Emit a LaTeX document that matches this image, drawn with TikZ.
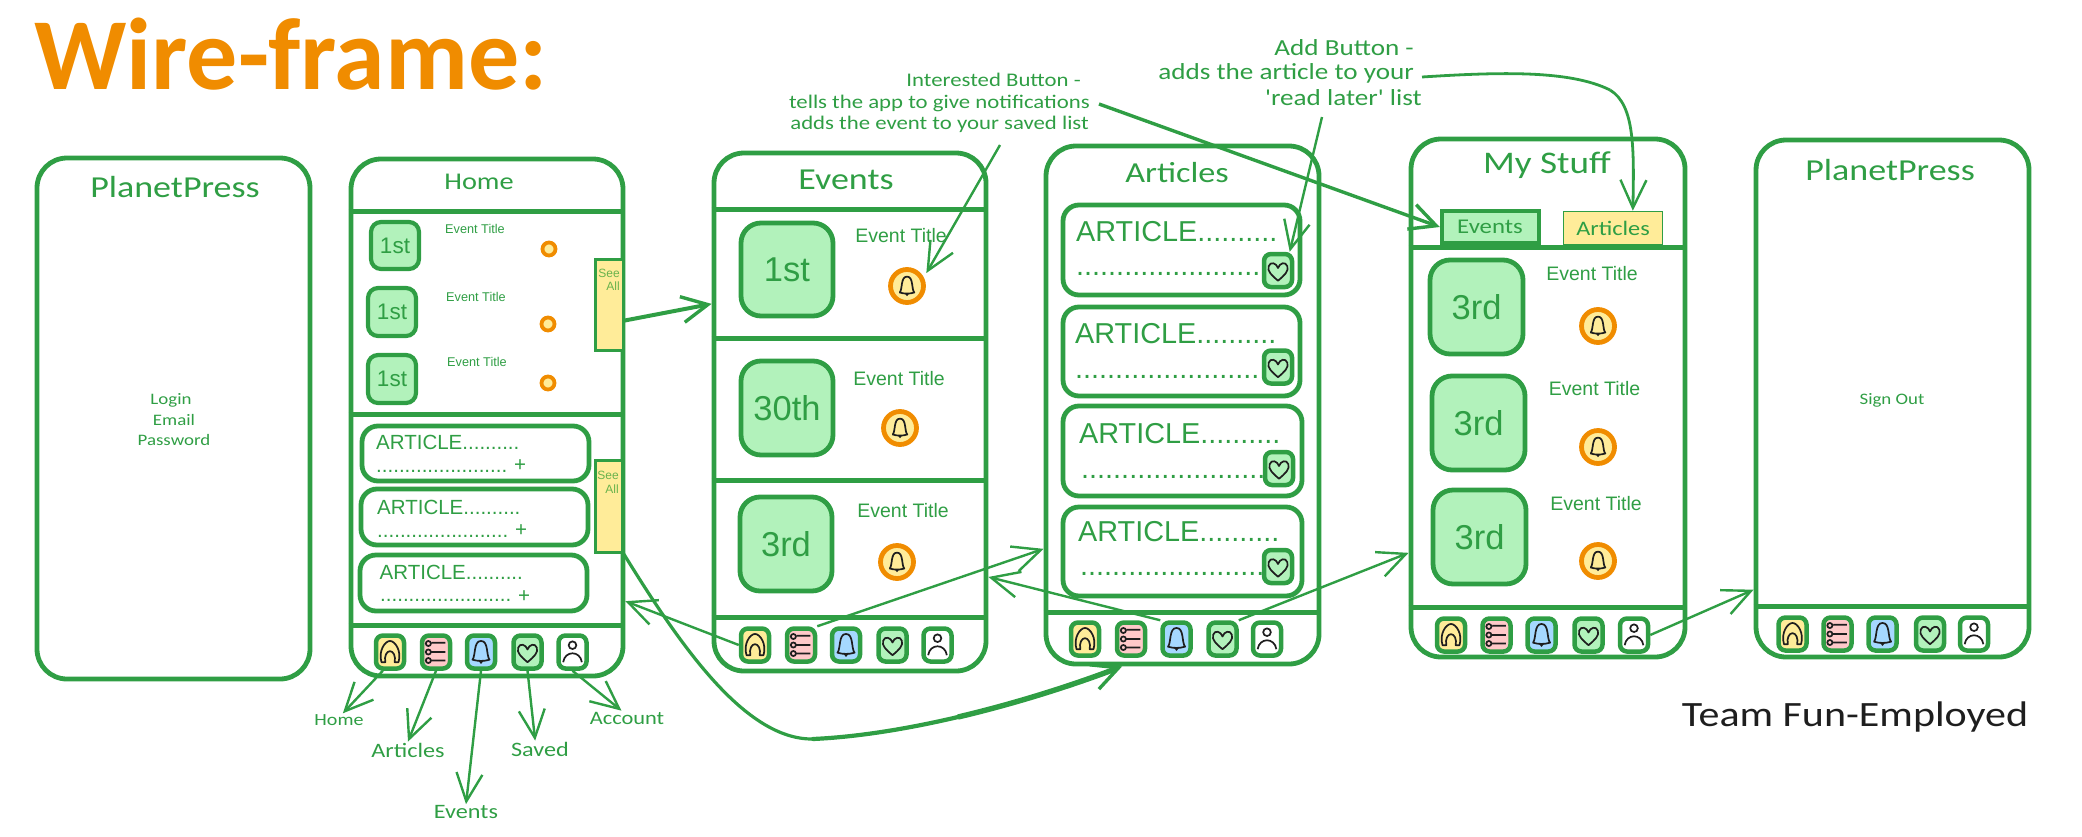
\documentclass[tikz,border=0pt]{standalone}
\usepackage{fontspec}
\setmainfont{Liberation Sans}
\newfontfamily\hand[FakeStretch=1.18]{Carlito}
\newfontfamily\headfont{Carlito}
\usetikzlibrary{arrows.meta,fit}
\definecolor{gr}{HTML}{2F9E44}
\definecolor{lgr}{HTML}{B2F2BB}
\definecolor{cyel}{HTML}{FFEC99}
\definecolor{cred}{HTML}{FFC9C9}
\definecolor{cblu}{HTML}{A5D8FF}
\definecolor{org}{HTML}{F08C00}
\definecolor{ink}{HTML}{1E1E1E}
\definecolor{seetxt}{HTML}{69B34C}
\newcommand{\fs}[1]{\fontsize{#1}{#1}\selectfont}
\tikzset{
  x=1pt,y=-1pt,
  panel/.style={draw=gr,line width=4.8pt,rounded corners=30pt,inner sep=-1pt},
  divider/.style={draw=gr,line width=5pt},
  thinbox/.style={draw=gr,line width=4.8pt,rounded corners=20pt,fill=lgr,inner sep=-1pt},
  datetxt/.style={text=gr,font=\fs{34.5},inner sep=0pt},
  smallbox/.style={draw=gr,line width=4.2pt,rounded corners=10pt,fill=lgr,inner sep=-1pt},
  smalltxt/.style={text=gr,font=\fs{22.5},inner sep=0pt},
  artbox/.style={draw=gr,line width=4.8pt,rounded corners=16pt,inner sep=-1pt},
  navbtn/.style={draw=gr,line width=4.5pt,rounded corners=7pt,minimum width=28pt,minimum height=33pt,inner sep=0pt},
  seebox/.style={draw=gr,line width=3pt,fill=cyel,inner sep=0pt},
  seetext/.style={text=seetxt,font=\fs{12},inner sep=0pt},
  evtitle/.style={text=gr,font=\fs{19.5},inner sep=0pt},
  evsmall/.style={text=gr,font=\fs{12.7},inner sep=0pt},
  bellmark/.style={circle,draw=org,line width=4.8pt,fill=cyel,minimum size=33pt,inner sep=0pt},
  orgdot/.style={circle,draw=org,line width=3.8pt,fill=cyel,minimum size=13pt,inner sep=0pt},
  artbig/.style={text=gr,font=\fs{28.8},anchor=base west,inner sep=0pt},
  artsm/.style={text=gr,font=\fs{20.5},anchor=base west,inner sep=0pt},
  handtxt/.style={text=gr,font=\hand,inner sep=1pt},
  conn/.style={draw=gr,line width=2.4pt,-{Straight Barb[length=28pt,width=26pt,line width=2.4pt]}},
  connthick/.style={draw=gr,line width=3.4pt,-{Straight Barb[length=26pt,width=26pt,line width=3.4pt]}},
  homeic/.pic={\draw[ink,line width=1.7pt,line join=round,scale=.85] (-10,12) .. controls (-14,-1) and (-6,-13) .. (0,-13) .. controls (6,-13) and (14,-1) .. (10,12) -- (5.5,12) .. controls (7,5) and (4,-1) .. (0,-1) .. controls (-4,-1) and (-7,5) .. (-5.5,12) -- cycle;},
  listic/.pic={\draw[ink,line width=1.7pt,scale=.85] (-9,-10) circle[radius=3] (-9,0) circle[radius=3] (-9,10) circle[radius=3] (-5,-11) -- (11,-11) (-5,0) -- (11,0) (-5,10) -- (11,10);},
  bellic/.pic={\draw[ink,line width=1.7pt,line join=round,scale=.85] (-10,9) .. controls (-6,4) and (-9,-13) .. (0,-13) .. controls (9,-13) and (6,4) .. (10,9) .. controls (4,11) and (-4,11) .. (-10,9) -- cycle; \fill[ink,scale=.85] (-3,10.5) -- (3,10.5) -- (0,14) -- cycle;},
  heartic/.pic={\draw[ink,line width=1.7pt,line join=round,scale=.85] (0,12) .. controls (-7,6) and (-13,1) .. (-11,-5) .. controls (-9,-11) and (-2,-9) .. (0,-3) .. controls (2,-9) and (9,-11) .. (11,-5) .. controls (13,1) and (7,6) .. (0,12) -- cycle;},
  personic/.pic={\draw[ink,line width=1.7pt,scale=.85] (0,-8) circle[radius=4.5] (-11,12) .. controls (-9,-2) and (9,-2) .. (11,12);},
}
\newcommand{\NavRow}[7]{%
  \node[navbtn,fill=cyel] (#1a) at (#3,#2) {}; \pic at (#1a.center) {homeic};
  \node[navbtn,fill=cred] (#1b) at (#4,#2) {}; \pic at (#1b.center) {listic};
  \node[navbtn,fill=cblu] (#1c) at (#5,#2) {}; \pic at (#1c.center) {bellic};
  \node[navbtn,fill=lgr]  (#1d) at (#6,#2) {}; \pic at (#1d.center) {heartic};
  \node[navbtn,fill=white](#1e) at (#7,#2) {}; \pic at (#1e.center) {personic};
}
\newcommand{\EventRow}[8]{%
  \node[thinbox,fit={(#2,#3)(#4,#5)}] (#1box) {};
  \node[datetxt] (#1num) at (#1box.center) {#6};
  \node[evtitle] (#1t) at (#7) {Event Title};
  \node[bellmark] (#1bell) at (#8) {}; \pic[scale=.85] at (#1bell.center) {bellic};
}
\begin{document}
\begin{tikzpicture}
\useasboundingbox (0,0) rectangle (2082,836);
% title
\node[text=org,font=\headfont\bfseries\fs{102},inner sep=0pt] (wf) at (291,54) {Wire-frame:};
% panel 1
\node[panel,fit={(36,157)(311,680)}] (p1) {};
\node[handtxt,font=\hand\fs{30.5}] (p1t) at (175,187) {PlanetPress};
\node[handtxt,font=\hand\fs{16}] (login) at (171,400) {Login};
\node[handtxt,font=\hand\fs{16}] (email) at (174,420) {Email};
\node[handtxt,font=\hand\fs{16}] (pass) at (174,440) {Password};
% panel 2 Home
\node[panel,fit={(350,158)(624,677)}] (p2) {};
\node[handtxt,font=\hand\fs{24}] (p2t) at (479,182) {Home};
\draw[divider] (p2.west |- 0,211) -- (p2.east |- 0,211);
\draw[divider] (p2.west |- 0,414) -- (p2.east |- 0,414);
\draw[divider] (p2.west |- 0,625) -- (p2.east |- 0,625);
\node[smallbox,fit={(370,221)(420,270)}] (h1) {};
\node[smalltxt] (h1n) at (h1.center) {1st};
\node[smallbox,fit={(367,287)(417,337)}] (h2) {};
\node[smalltxt] (h2n) at (h2.center) {1st};
\node[smallbox,fit={(367,354)(417,404)}] (h3) {};
\node[smalltxt] (h3n) at (h3.center) {1st};
\node[evsmall] (h1t) at (475,229) {Event Title};
\node[evsmall] (h2t) at (476,297) {Event Title};
\node[evsmall] (h3t) at (477,362) {Event Title};
\node[orgdot] (h1d) at (549,249) {};
\node[orgdot] (h2d) at (548,324) {};
\node[orgdot] (h3d) at (548,383) {};
\node[seebox,fit={(595,259)(623,350)}] (seeA) {};
\node[seetext] (seeA1) at (609,273) {See};
\node[seetext] (seeA2) at (613,286) {All};
\node[seebox,fit={(595,460)(622,552)}] (seeB) {};
\node[seetext] (seeB1) at (608,475) {See};
\node[seetext] (seeB2) at (612,489) {All};
\node[artbox,fit={(361,425)(590,482)}] (ha1) {};
\node[artbox,fit={(360,488)(589,546)}] (ha2) {};
\node[artbox,fit={(359,554)(588,612)}] (ha3) {};
\node[artsm] (ha1a) at (376,449.5) {ARTICLE..........};
\node[artsm] (ha1b) at (376,472) {.......................};
\node[text=gr,font=\fs{20.5},inner sep=0pt] (ha1p) at (520,466) {+};
\node[artsm] (ha2a) at (377,514) {ARTICLE..........};
\node[artsm] (ha2b) at (377,537) {.......................};
\node[text=gr,font=\fs{20.5},inner sep=0pt] (ha2p) at (521,531) {+};
\node[artsm] (ha3a) at (379.5,579) {ARTICLE..........};
\node[artsm] (ha3b) at (380,601) {.......................};
\node[text=gr,font=\fs{20.5},inner sep=0pt] (ha3p) at (524,597) {+};
\NavRow{navH}{652}{390}{436}{481}{527.5}{572.5}
% panel 3 Events
\node[panel,fit={(713,152)(987,672)}] (p3) {};
\node[handtxt,font=\hand\fs{30.5}] (p3t) at (846,180) {Events};
\draw[divider] (p3.west |- 0,209) -- (p3.east |- 0,209);
\draw[divider] (p3.west |- 0,338) -- (p3.east |- 0,338);
\draw[divider] (p3.west |- 0,480) -- (p3.east |- 0,480);
\draw[divider] (p3.west |- 0,617) -- (p3.east |- 0,617);
\EventRow{e1}{740}{222}{834}{317}{1st}{901,236}{907,286}
\EventRow{e2}{740}{360}{834}{456}{30th}{899,379}{900,428}
\EventRow{e3}{739}{496}{833}{592}{3rd}{903,511}{897,562}
\NavRow{navE}{645}{755}{801}{846}{892.5}{937.5}
% panel 4 Articles
\node[panel,fit={(1045,145)(1320,665)}] (p4) {};
\node[handtxt,font=\hand\fs{29}] (p4t) at (1177,173) {Articles};
\draw[divider] (p4.west |- 0,612) -- (p4.east |- 0,612);
\node[artbox,fit={(1062,204)(1301,296)}] (a1) {};
\node[artbox,fit={(1062,306)(1301,397)}] (a2) {};
\node[artbox,fit={(1062,405)(1303,497)}] (a3) {};
\node[artbox,fit={(1062,506)(1303,597)}] (a4) {};
\node[artbig] (a1a) at (1076,241) {ARTICLE..........};
\node[artbig] (a1b) at (1076,275) {.......................};
\node[artbig] (a2a) at (1075,343) {ARTICLE..........};
\node[artbig] (a2b) at (1075,378) {.......................};
\node[artbig] (a3a) at (1079,443) {ARTICLE..........};
\node[artbig] (a3b) at (1081,478) {.......................};
\node[artbig] (a4a) at (1078,541) {ARTICLE..........};
\node[artbig] (a4b) at (1080,575) {.......................};
\node[navbtn,fill=lgr,minimum width=28pt] (a1h) at (1278,270.5) {}; \pic at (a1h.center) {heartic};
\node[navbtn,fill=lgr,minimum width=28pt] (a2h) at (1278,367) {}; \pic at (a2h.center) {heartic};
\node[navbtn,fill=lgr,minimum width=28pt] (a3h) at (1279,468.5) {}; \pic at (a3h.center) {heartic};
\node[navbtn,fill=lgr,minimum width=28pt] (a4h) at (1278,566.5) {}; \pic at (a4h.center) {heartic};
\NavRow{navA}{639}{1085}{1131}{1176.5}{1222.5}{1267}
% panel 5 My Stuff
\node[panel,fit={(1410,138)(1686,658)}] (p5) {};
\node[handtxt,font=\hand\fs{31.5}] (p5t) at (1547,165) {My Stuff};
\draw[divider] (p5.west |- 0,247) -- (p5.east |- 0,247);
\draw[divider] (p5.west |- 0,607) -- (p5.east |- 0,607);
\node[draw=gr,line width=4.5pt,fill=lgr,inner sep=-2pt,fit={(1440,209)(1541,245)}] (tabE) {};
\node[handtxt,font=\hand\fs{21}] (tabEt) at (1490,227) {Events};
\node[draw=gr,line width=1.5pt,fill=cyel,inner sep=-.5pt,fit={(1563,211)(1663,245)}] (tabA) {};
\node[handtxt,font=\hand\fs{20.6}] (tabAt) at (1613,228) {Articles};
\EventRow{m1}{1429}{259}{1524}{355}{3rd}{1592,274}{1598,326}
\EventRow{m2}{1431}{375}{1526}{471}{3rd}{1594.5,389}{1598,447}
\EventRow{m3}{1432}{489}{1527}{585}{3rd}{1596,504}{1598,561}
\NavRow{navM}{635}{1451}{1496.5}{1541.5}{1588.5}{1634}
% panel 6
\node[panel,fit={(1755,139)(2030,658)}] (p6) {};
\node[handtxt,font=\hand\fs{30.5}] (p6t) at (1890,170) {PlanetPress};
\node[handtxt,font=\hand\fs{16}] (signout) at (1892,400) {Sign Out};
\draw[divider] (p6.west |- 0,606) -- (p6.east |- 0,606);
\NavRow{navP}{634}{1792.5}{1837.5}{1882.5}{1930}{1974}
% labels
\node[handtxt,font=\hand\fs{17}] (lHome) at (339,720) {Home};
\node[handtxt,font=\hand\fs{20.5}] (lArt) at (408,750) {Articles};
\node[handtxt,font=\hand\fs{20.5}] (lEv) at (466,812) {Events};
\node[handtxt,font=\hand\fs{20.5}] (lSav) at (540,749) {Saved};
\node[handtxt,font=\hand\fs{19}] (lAcc) at (627,718) {Account};
\node[text=ink,font=\hand\fs{35.6},inner sep=0pt] (team) at (1855,717) {Team Fun-Employed};
% notes
\node[handtxt,font=\hand\fs{19.3},anchor=east] (n1a) at (1082,80) {Interested Button -};
\node[handtxt,font=\hand\fs{19.3},anchor=east] (n1b) at (1091,103) {tells the app to give notifications};
\node[handtxt,font=\hand\fs{19.3},anchor=east] (n1c) at (1090,124) {adds the event to your saved list};
\node[handtxt,font=\hand\fs{23},anchor=east] (n2a) at (1415,48) {Add Button -};
\node[handtxt,font=\hand\fs{23},anchor=east] (n2b) at (1415,73) {adds the article to your};
\node[handtxt,font=\hand\fs{23},anchor=east] (n2c) at (1423,98) {'read later' list};
\coordinate (n1e) at (1000,145);
\coordinate (n1s) at (1099,104);
\coordinate (n2e) at (1322,117);
\coordinate (n2s) at (1422,77);
\coordinate (curveMid) at (813,739);
\coordinate (curveLate) at (958,717);
\coordinate (curveOut) at (1610,90);
% connectors
\draw[connthick,line width=4pt] (seeA.-46) -- (p3.142.9);
\draw[draw=gr,line width=3.2pt,line cap=round] (seeB.south east) .. controls (680,645) and (745,740) .. (curveMid);
\draw[draw=gr,line width=4.2pt,line cap=round] (curveMid) .. controls (856.5,737) and (905.75,729.25) .. (curveLate);
\draw[connthick,line width=5.4pt] (curveLate) .. controls (1010,704.75) and (1065,688) .. (p4.-103.5);
\draw[conn] (navEa.west) -- (p2.-53.8);
\draw[conn] (navEb.north east) -- (p4.-134.7);
\draw[conn] (navAc.north west) -- (p3.-50.6);
\draw[conn] (navAd.north east) -- (p5.-132.8);
\draw[conn] (navMe.east) -- (p6.-126.2);
\draw[conn,shorten >=5pt] (n1e) -- (e1bell.27);
\draw[conn] (n2e) -- (a1h.58.8);
\draw[connthick] (n1s) -- (tabE.west);
\draw[draw=gr,line width=2.8pt] (n2s) .. controls (1500,72) and (1570,70) .. (curveOut);
\draw[conn,line width=2.8pt] (curveOut) .. controls (1635,105) and (1634,150) .. (tabA.41.8);
\draw[conn] (navHa.-111) -- (lHome.60);
\draw[conn] (navHb.south) -- (lArt.north);
\draw[conn] (navHc.south) -- (lEv.north);
\draw[conn] (navHd.south) -- (lSav.120);
\draw[conn] (navHe.south) -- (lAcc.127);
\end{tikzpicture}
\end{document}
